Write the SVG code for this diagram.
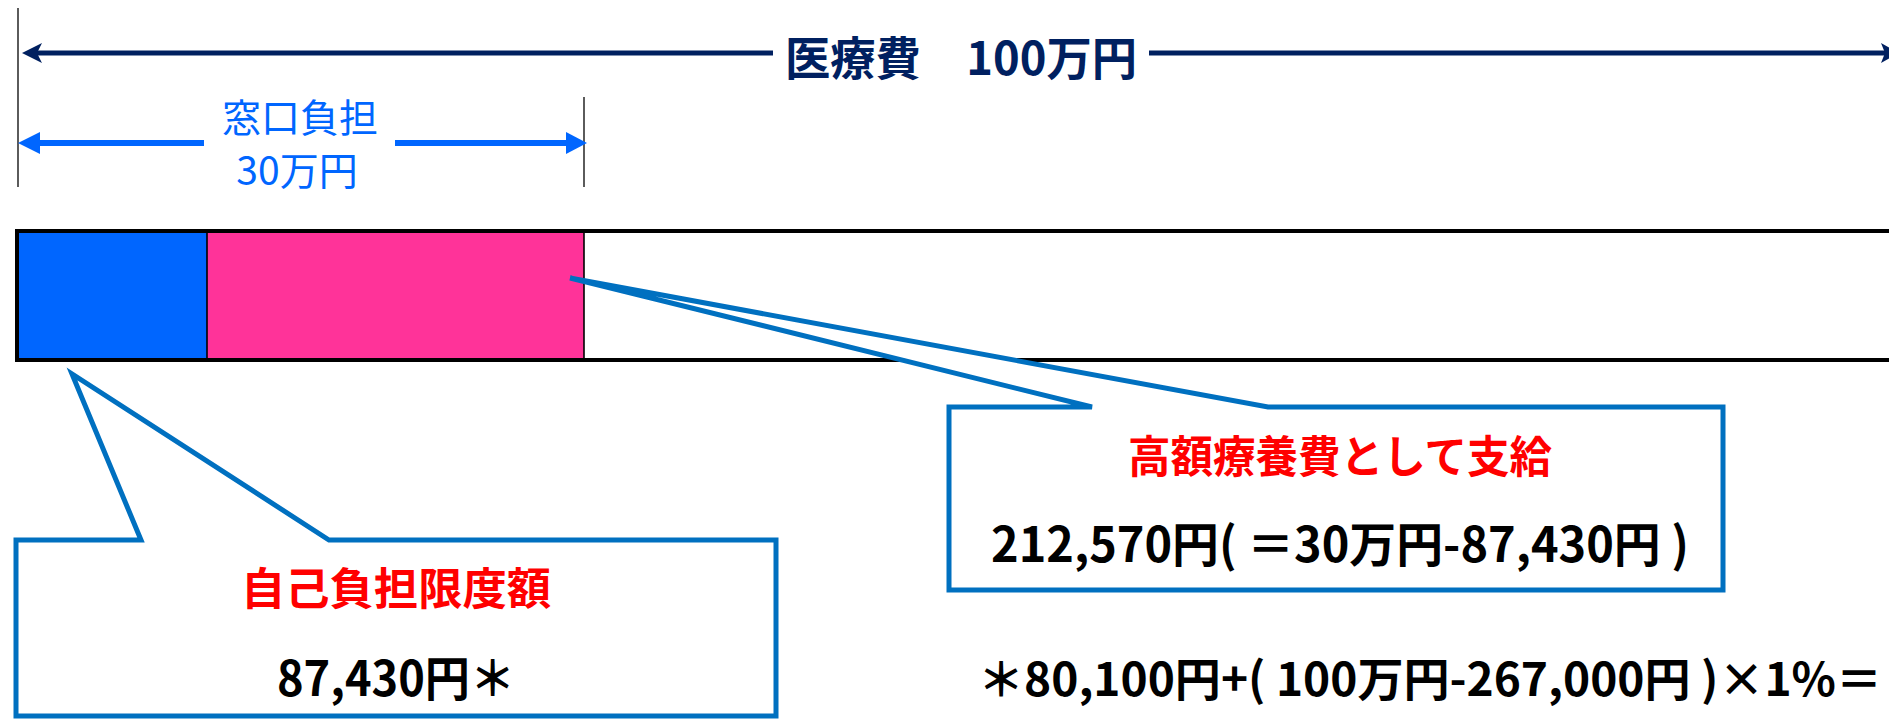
<svg xmlns="http://www.w3.org/2000/svg" width="1889" height="720" viewBox="0 0 1889 720">
  <style>
    text { font-family: 'Noto Sans CJK JP', 'Noto Sans', sans-serif; }
    .title { font-size: 46px; font-weight: 700; fill: #002060; }
    .blue { font-size: 39px; font-weight: 400; fill: #0066FF; }
    .red { font-size: 44px; font-weight: 700; fill: #FF0000; }
    .num { font-size: 48px; font-weight: 700; fill: #000000; }
    .foot { font-size: 46px; font-weight: 700; fill: #000000; }
    .tick { stroke: #333333; stroke-width: 1.6; fill: none; }
    .navy { stroke: #002060; stroke-width: 5; fill: none; }
    .bluearr { stroke: #0066FF; stroke-width: 6; fill: none; }
    .callout { fill: #FFFFFF; stroke: #0070C0; stroke-width: 5; stroke-linejoin: miter; }
  </style>
  <rect x="0" y="0" width="1889" height="720" fill="#FFFFFF"/>

  <g id="connectors">
    <line class="tick" x1="18" y1="8" x2="18" y2="187"/>
    <line class="tick" x1="584" y1="97" x2="584" y2="187"/>
    <line class="navy" x1="34" y1="53" x2="773" y2="53"/>
    <line class="navy" x1="1149" y1="53" x2="1885" y2="53"/>
    <polygon fill="#002060" points="22,53 42,43 37,53 42,63"/>
    <polygon fill="#002060" points="1899,53 1881,43 1885,53 1881,63"/>
    <line class="bluearr" x1="32" y1="143" x2="204" y2="143"/>
    <line class="bluearr" x1="395" y1="143" x2="572" y2="143"/>
    <polygon fill="#0066FF" points="18,143 40,132 40,154"/>
    <polygon fill="#0066FF" points="587,143 566,132 566,154"/>
  </g>

  <g id="title">
    <text class="title" x="961" y="75" text-anchor="middle" textLength="352" lengthAdjust="spacingAndGlyphs">医療費　100万円</text>
  </g>

  <g id="window-label">
    <text class="blue" x="300" y="132" text-anchor="middle">窓口負担</text>
    <text class="blue" x="297" y="185" text-anchor="middle">30万円</text>
  </g>

  <g id="bar">
    <rect x="17" y="231" width="1890" height="129" fill="#FFFFFF" stroke="none"/>
    <rect x="17" y="231" width="190" height="129" fill="#0066FF"/>
    <rect x="207" y="231" width="377" height="129" fill="#FF3399"/>
    <line x1="207" y1="231" x2="207" y2="360" stroke="#000000" stroke-width="1.6"/>
    <line x1="584" y1="231" x2="584" y2="360" stroke="#000000" stroke-width="1.6"/>
    <rect x="17" y="231" width="1890" height="129" fill="none" stroke="#000000" stroke-width="4"/>
  </g>

  <g id="callout-limit">
    <path class="callout" d="M16,540 L141,540 L72,374 L329,540 L776,540 L776,716 L16,716 Z"/>
    <text class="red" x="396" y="605" text-anchor="middle" textLength="310" lengthAdjust="spacingAndGlyphs">自己負担限度額</text>
    <text class="num" x="396" y="696" text-anchor="middle" textLength="238" lengthAdjust="spacingAndGlyphs">87,430円＊</text>
  </g>

  <g id="callout-benefit">
    <path class="callout" d="M949,407 L1092,407 L570,278 L1268,407 L1723,407 L1723,590 L949,590 Z"/>
    <text class="red" x="1340" y="473" text-anchor="middle" textLength="424" lengthAdjust="spacingAndGlyphs">高額療養費として支給</text>
    <text class="num" x="1340" y="562" text-anchor="middle" textLength="698" lengthAdjust="spacingAndGlyphs">212,570円( ＝30万円-87,430円 )</text>
  </g>

  <g id="footnote">
    <text class="foot" x="978" y="696" textLength="904" lengthAdjust="spacingAndGlyphs">＊80,100円+( 100万円-267,000円 )×1%＝</text>
  </g>
</svg>
